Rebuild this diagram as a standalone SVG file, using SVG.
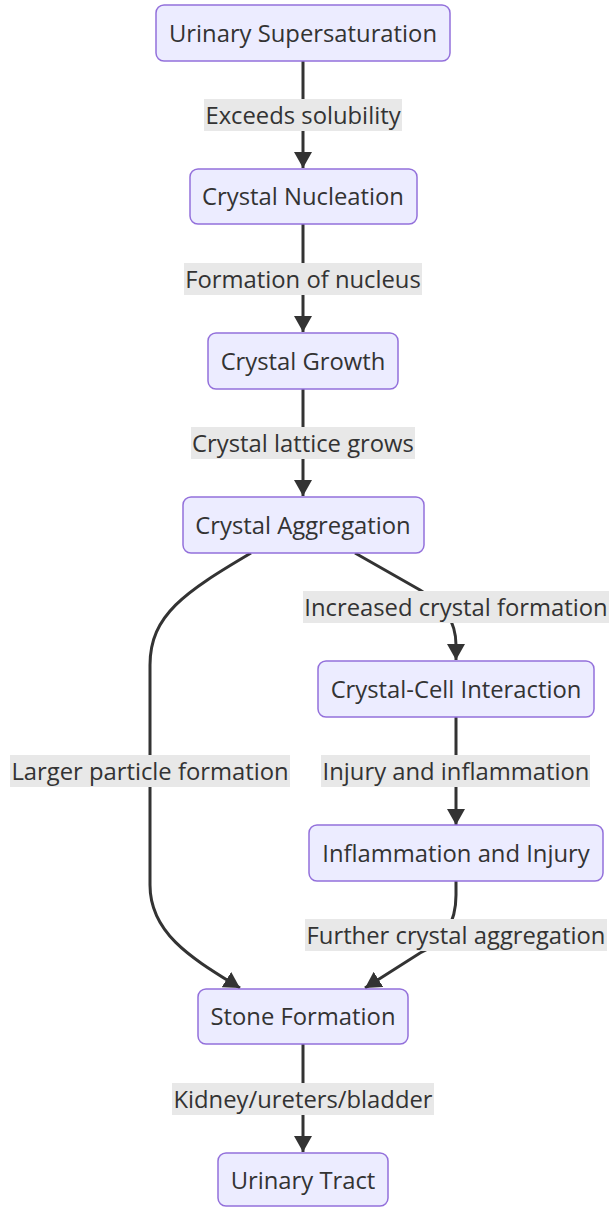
<svg xmlns="http://www.w3.org/2000/svg" width="611" height="1207" viewBox="0 0 611 1207">
<defs>
<style>
.node rect{fill:#ECECFF;stroke:#9370DB;stroke-width:1.5}
text{font-family:"Open Sans","Noto Sans",sans-serif;font-size:23.8px;fill:#333;text-anchor:middle;dominant-baseline:central}
.edge{fill:none;stroke:#333;stroke-width:3}
.lbl rect{fill:#e8e8e8}
</style>
<marker id="arr" markerUnits="userSpaceOnUse" viewBox="0 0 16 18" refX="16" refY="9" markerWidth="16" markerHeight="18" orient="auto">
<path d="M0,0 L16,9 L0,18 z" fill="#333"/>
</marker>
</defs>
<rect width="611" height="1207" fill="#fff"/>
<g id="connectors">
<path class="edge" d="M303,61 L303,168" marker-end="url(#arr)"/>
<path class="edge" d="M303,224 L303,332" marker-end="url(#arr)"/>
<path class="edge" d="M303,389 L303,496" marker-end="url(#arr)"/>
<path class="edge" d="M251,553 C185,592 150,615 150,665 L150,885 C150,935 195,960 240,988" marker-end="url(#arr)"/>
<path class="edge" d="M355,553 L420,590 C445,605 456,622 456,645 L456,660" marker-end="url(#arr)"/>
<path class="edge" d="M456,717 L456,825" marker-end="url(#arr)"/>
<path class="edge" d="M456,881 L456,895 C456,928 440,944 420,953 L365,988" marker-end="url(#arr)"/>
<path class="edge" d="M303,1044 L303,1152" marker-end="url(#arr)"/>
<g class="lbl"><rect x="204" y="99" width="198" height="32"/><text x="303" y="115">Exceeds solubility</text></g>
<g class="lbl"><rect x="184" y="263" width="238" height="32"/><text x="303" y="279">Formation of nucleus</text></g>
<g class="lbl"><rect x="191" y="427" width="224" height="32"/><text x="303" y="443">Crystal lattice grows</text></g>
<g class="lbl"><rect x="303" y="591" width="306" height="32"/><text x="456" y="607">Increased crystal formation</text></g>
<g class="lbl"><rect x="10" y="755" width="280" height="32"/><text x="150" y="771">Larger particle formation</text></g>
<g class="lbl"><rect x="321" y="755" width="269" height="32"/><text x="456" y="771">Injury and inflammation</text></g>
<g class="lbl"><rect x="305" y="919" width="302" height="32"/><text x="456" y="935">Further crystal aggregation</text></g>
<g class="lbl"><rect x="172" y="1083" width="262" height="32"/><text x="303" y="1099">Kidney/ureters/bladder</text></g>
</g>
<g id="n1" class="node"><rect x="156" y="5" width="294" height="56" rx="8"/><text x="303" y="33">Urinary Supersaturation</text></g>
<g id="n2" class="node"><rect x="190" y="169" width="227" height="55" rx="8"/><text x="303" y="196">Crystal Nucleation</text></g>
<g id="n3" class="node"><rect x="208" y="333" width="190" height="56" rx="8"/><text x="303" y="361">Crystal Growth</text></g>
<g id="n4" class="node"><rect x="183" y="497" width="241" height="56" rx="8"/><text x="303" y="525">Crystal Aggregation</text></g>
<g id="n5" class="node"><rect x="318" y="661" width="276" height="56" rx="8"/><text x="456" y="689">Crystal-Cell Interaction</text></g>
<g id="n6" class="node"><rect x="309" y="825" width="294" height="56" rx="8"/><text x="456" y="853">Inflammation and Injury</text></g>
<g id="n7" class="node"><rect x="198" y="989" width="210" height="55" rx="8"/><text x="303" y="1016">Stone Formation</text></g>
<g id="n8" class="node"><rect x="218" y="1153" width="170" height="53" rx="8"/><text x="303" y="1180">Urinary Tract</text></g>
</svg>
